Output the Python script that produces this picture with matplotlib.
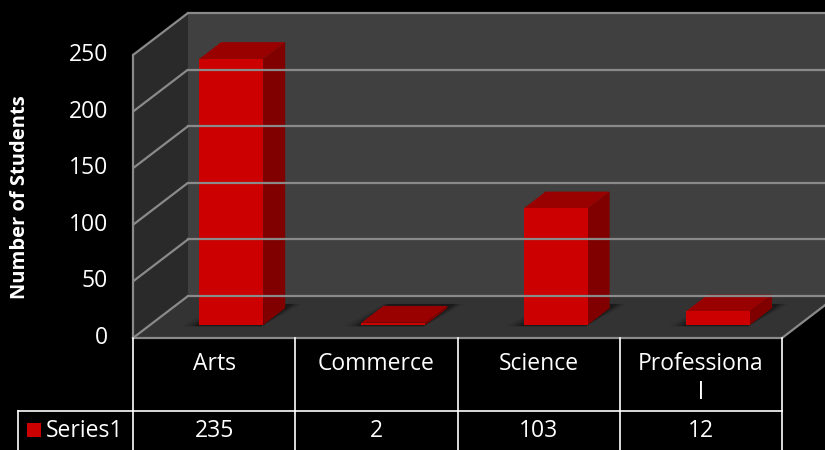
import matplotlib.pyplot as plt
from matplotlib.patches import Polygon, Rectangle

# data
categories = ["Arts", "Commerce", "Science", "Professional"]
header_labels = ["Arts", "Commerce", "Science", "Professiona\nl"]
students = [235, 2, 103, 12]
series_name = "Series1"
y_ticks = [0, 50, 100, 150, 200, 250]
y_title = "Number of Students"

plt.rcParams['font.family'] = ['Open Sans', 'DejaVu Sans']

# pseudo-3d layout (pixels)
W, H = 825, 450
X_LEFT, X_RIGHT = 133, 782
Y_FLOOR = 338
Y_MAX = 250
PX_PER_UNIT = 283 / Y_MAX
DX, DY = 55, -42
BAR_W = 64
D_FRONT, D_BACK = 0.31, 0.71
TABLE_MID = 411
TABLE_LEFT = 18
FS = 16.5

col_w = (X_RIGHT - X_LEFT) / len(categories)


def proj(xf, v, d):
    return (xf + DX * d, Y_FLOOR - v * PX_PER_UNIT + DY * d)


fig = plt.figure(figsize=(W / 100, H / 100), dpi=100, facecolor='black')
ax = fig.add_axes([0, 0, 1, 1])
ax.set_xlim(0, W)
ax.set_ylim(H, 0)
ax.axis('off')

grid_col = '#8a8a8a'

# walls + floor
back = [proj(X_LEFT, 0, 1), proj(X_LEFT, Y_MAX, 1), (W + 60, proj(0, Y_MAX, 1)[1]), (W + 60, proj(0, 0, 1)[1])]
ax.add_patch(Polygon(back, closed=True, fc='#404040', ec='none'))
left = [proj(X_LEFT, 0, 0), proj(X_LEFT, Y_MAX, 0), proj(X_LEFT, Y_MAX, 1), proj(X_LEFT, 0, 1)]
ax.add_patch(Polygon(left, closed=True, fc='#2a2a2a', ec='none'))
floor = [proj(X_LEFT, 0, 0), proj(X_RIGHT, 0, 0), proj(X_RIGHT, 0, 1), proj(X_LEFT, 0, 1)]
ax.add_patch(Polygon(floor, closed=True, fc='#333333', ec='none'))

# gridlines
for v in y_ticks:
    a = proj(X_LEFT, v, 0)
    b = proj(X_LEFT, v, 1)
    ax.plot([a[0], b[0]], [a[1], b[1]], color=grid_col, lw=1.6, solid_capstyle='butt')
    ax.plot([b[0], W + 60], [b[1], b[1]], color=grid_col, lw=1.6)
    ax.text(108, a[1], str(v), color='white', fontsize=FS, ha='right', va='center')

# edges
a, b = proj(X_LEFT, 0, 0), proj(X_LEFT, Y_MAX, 0)
ax.plot([a[0], b[0]], [a[1], b[1]], color=grid_col, lw=1.6)
c = proj(X_RIGHT, 0, 0)
ax.plot([a[0], c[0]], [a[1], c[1]], color=grid_col, lw=1.6)
d = proj(X_RIGHT, 0, 1)
ax.plot([c[0], d[0]], [c[1], d[1]], color=grid_col, lw=1.6)

# bars
for i, val in enumerate(students):
    cx = X_LEFT + col_w * (i + 0.5)
    xl, xr = cx - BAR_W / 2, cx + BAR_W / 2
    # soft shadow on the floor
    for k, al in [(16, 0.08), (11, 0.12), (7, 0.16), (3, 0.22)]:
        sh = [proj(xl - k, 0, D_FRONT - 0.03), proj(xr, 0, D_FRONT - 0.03),
              proj(xr + k * 0.7, 0, D_BACK + 0.1), proj(xl - k * 0.3, 0, D_BACK + 0.1)]
        ax.add_patch(Polygon(sh, closed=True, fc='black', ec='none', alpha=al))
    side = [proj(xr, 0, D_FRONT), proj(xr, val, D_FRONT), proj(xr, val, D_BACK), proj(xr, 0, D_BACK)]
    ax.add_patch(Polygon(side, closed=True, fc='#800000', ec='none'))
    top = [proj(xl, val, D_FRONT), proj(xr, val, D_FRONT), proj(xr, val, D_BACK), proj(xl, val, D_BACK)]
    ax.add_patch(Polygon(top, closed=True, fc='#990000', ec='none'))
    front = [proj(xl, 0, D_FRONT), proj(xr, 0, D_FRONT), proj(xr, val, D_FRONT), proj(xl, val, D_FRONT)]
    ax.add_patch(Polygon(front, closed=True, fc='#cc0000', ec='none'))

# axis title
ax.text(20, 197, y_title, color='white', fontsize=14.5, fontweight='bold',
        rotation=90, ha='center', va='center')

# data table
for i in range(len(categories) + 1):
    x = X_LEFT + col_w * i
    ax.plot([x, x], [Y_FLOOR, H], color='white', lw=1.2)
ax.plot([TABLE_LEFT, X_RIGHT], [TABLE_MID, TABLE_MID], color='white', lw=1.2)
ax.plot([TABLE_LEFT, TABLE_LEFT], [TABLE_MID, H], color='white', lw=1.2)
for i, lab in enumerate(header_labels):
    cx = X_LEFT + col_w * (i + 0.5)
    ax.text(cx, 352, lab, color='white', fontsize=FS, ha='center', va='top', linespacing=1.3)
    ax.text(cx, 431, str(students[i]), color='white', fontsize=FS, ha='center', va='center')
ax.add_patch(Rectangle((27, 423), 14, 14, fc='#cc0000', ec='none'))
ax.text(46, 431, series_name, color='white', fontsize=FS, ha='left', va='center')

fig.savefig('out.png', dpi=100, facecolor='black')
